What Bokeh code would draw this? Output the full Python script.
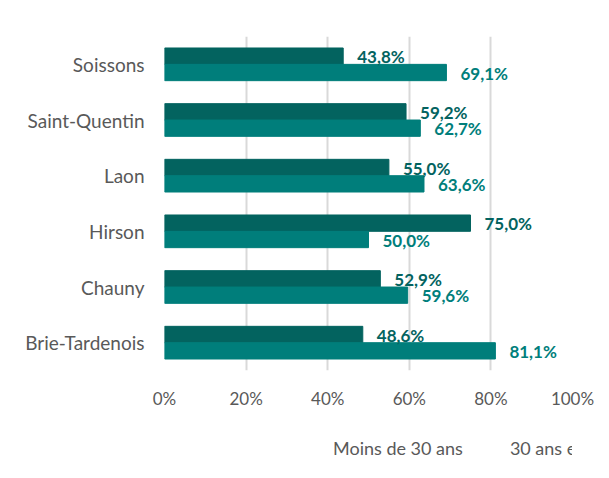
from bokeh.plotting import figure
from bokeh.layouts import column
from bokeh.models import FactorRange, ColumnDataSource, FixedTicker, Legend, LegendItem
from bokeh.transform import dodge
from bokeh.core.properties import value
from bokeh.embed import file_html
from bokeh.resources import INLINE

cities = ["Soissons", "Saint-Quentin", "Laon", "Hirson", "Chauny", "Brie-Tardenois"]
moins30 = [43.8, 59.2, 55.0, 75.0, 52.9, 48.6]
plus30 = [69.1, 62.7, 63.6, 50.0, 59.6, 81.1]
x_ticks = [0, 20, 40, 60, 80, 100]
x_tick_labels = ["0%", "20%", "40%", "60%", "80%", "100%"]
series_names = ["Moins de 30 ans", "30 ans et plus"]

DARK = "#03635f"
LIGHT = "#007e7b"
FONT = "Lato"
GREY = "#595959"

def fmt(v):
    return f"{v:.1f}".replace(".", ",") + "%"

src = ColumnDataSource(dict(
    city=cities, m=moins30, p=plus30,
    ml=[fmt(v) for v in moins30], pl=[fmt(v) for v in plus30],
))

p = figure(
    width=609, height=411,
    output_backend="svg", toolbar_location=None,
    y_range=FactorRange(factors=list(reversed(cities))),
    x_range=(0, 100),
    min_border_left=164, min_border_top=36, min_border_right=37, min_border_bottom=0,
)
p.outline_line_color = None
p.background_fill_color = "white"

off = 0.147
h = 0.293
p.hbar(y=dodge("city", off, range=p.y_range), right="m", left=0, height=h,
       color=DARK, source=src)
p.hbar(y=dodge("city", -off, range=p.y_range), right="p", left=0, height=h,
       color=LIGHT, source=src)

p.text(x="m", y=dodge("city", off - 0.01, range=p.y_range), text="ml", source=src,
       x_offset=14, text_baseline="middle", text_align="left",
       text_font=value(FONT), text_font_style="bold", text_font_size="17px",
       text_color=DARK)
p.text(x="p", y=dodge("city", -off - 0.01, range=p.y_range), text="pl", source=src,
       x_offset=14, text_baseline="middle", text_align="left",
       text_font=value(FONT), text_font_style="bold", text_font_size="17px",
       text_color=LIGHT)

p.xaxis.ticker = FixedTicker(ticks=x_ticks)
p.xaxis.major_label_overrides = {t: l for t, l in zip(x_ticks, x_tick_labels)}
p.xaxis.axis_line_color = None
p.xaxis.major_tick_line_color = None
p.xaxis.minor_tick_line_color = None
p.xaxis.major_tick_out = 0
p.xaxis.major_label_standoff = 17
p.xaxis.major_label_text_font = FONT
p.xaxis.major_label_text_font_size = "17px"
p.xaxis.major_label_text_color = GREY

p.yaxis.axis_line_color = None
p.yaxis.major_tick_line_color = None
p.yaxis.minor_tick_line_color = None
p.yaxis.major_tick_out = 0
p.yaxis.major_label_standoff = 20
p.yaxis.major_label_text_font = FONT
p.yaxis.major_label_text_font_size = "19px"
p.yaxis.major_label_text_color = GREY

p.xgrid.grid_line_color = "#d9d9d9"
p.xgrid.grid_line_width = 2
p.ygrid.grid_line_color = None

# legend strip below the chart
pl = figure(width=609, height=67, output_backend="svg", toolbar_location=None,
            x_axis_location=None, y_axis_location=None,
            min_border=0)
pl.outline_line_color = None
pl.grid.grid_line_color = None
lr1 = pl.hbar(y=[], right=[], left=0, height=0.3, color=DARK)
lr2 = pl.hbar(y=[], right=[], left=0, height=0.3, color=LIGHT)

legend = Legend(items=[LegendItem(label=series_names[0], renderers=[lr1]),
                       LegendItem(label=series_names[1], renderers=[lr2])],
                orientation="horizontal", location=(152, 19),
                label_text_font=FONT, label_text_font_size="18px",
                label_text_color=GREY, border_line_color=None,
                background_fill_alpha=0,
                glyph_width=13, glyph_height=13, spacing=30, padding=4,
                margin=0, label_standoff=4)
pl.add_layout(legend, "center")

layout = column(p, pl, spacing=0)

open("out.html", "w").write(file_html(layout, INLINE))
